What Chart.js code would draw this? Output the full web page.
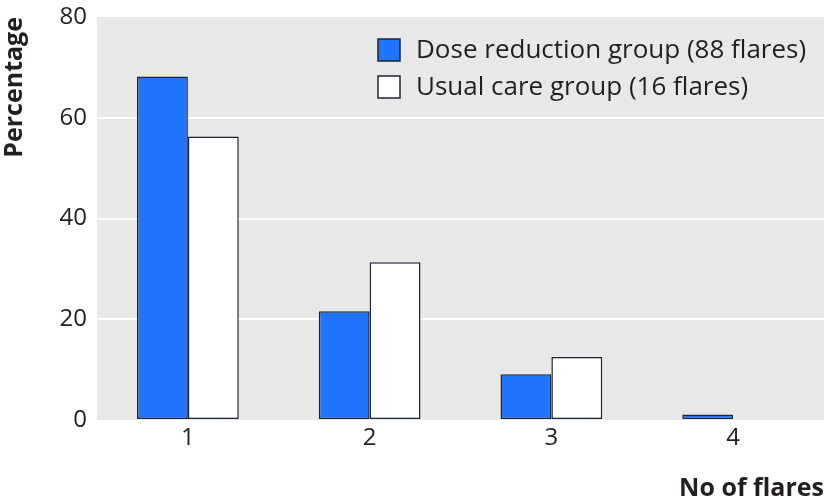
<!DOCTYPE html>
<html>
<head>
<meta charset="utf-8">
<script src="https://cdn.jsdelivr.net/npm/chart.js@4/dist/chart.umd.min.js"></script>
<style>
  body { margin: 0; background: #fff; }
  #wrap { width: 824px; height: 504px; position: relative; }
</style>
</head>
<body>
<div id="wrap"><canvas id="flareChart"></canvas></div>
<script>
// ============================
// DATA
// ============================

const categories = ['1', '2', '3', '4'];
const doseReduction = [68.2, 21.6, 9.1, 1.1];
const usualCare = [56.3, 31.3, 12.5, null];
const yTicks = [0, 20, 40, 60, 80];
const seriesLabels = ['Dose reduction group (88 flares)', 'Usual care group (16 flares)'];

const FONT = '"Open Sans", "Noto Sans", sans-serif';
const TEXT = '#231f20';
const EDGE = '#1c2630';

// gray plot background
const plotBg = {
    id: 'plotBg',
    beforeDraw(chart) {
        const a = chart.chartArea;
        const ctx = chart.ctx;
        ctx.save();
        ctx.fillStyle = '#e8e8e8';
        ctx.fillRect(a.left, a.top, a.right - a.left, a.bottom - a.top);
        ctx.restore();
    }
};

// legend drawn inside the plot, top right
const innerLegend = {
    id: 'innerLegend',
    afterDraw(chart) {
        const ctx = chart.ctx;
        const x = 378, y0 = 39, rowH = 37, box = 22;
        ctx.save();
        ctx.font = '26px ' + FONT;
        ctx.textBaseline = 'middle';
        chart.data.datasets.forEach((ds, i) => {
            const y = y0 + i * rowH;
            ctx.fillStyle = ds.backgroundColor;
            ctx.fillRect(x, y, box, box);
            ctx.lineWidth = 1.5;
            ctx.strokeStyle = EDGE;
            ctx.strokeRect(x, y, box, box);
            ctx.fillStyle = TEXT;
            ctx.fillText(ds.label, x + 38, y + box / 2 + 1);
        });
        ctx.restore();
    }
};

const ctx = document.getElementById('flareChart');

new Chart(ctx, {

    type: 'bar',

    data: {

        labels: categories,

        datasets: [{
            label: seriesLabels[0],
            data: doseReduction,
            backgroundColor: '#1f75fe',
            borderColor: EDGE,
            borderWidth: 1.5,
            borderSkipped: false
        }, {
            label: seriesLabels[1],
            data: usualCare,
            backgroundColor: '#ffffff',
            borderColor: EDGE,
            borderWidth: 1.5,
            borderSkipped: false
        }]

    },

    options: {

        responsive: true,
        maintainAspectRatio: false,
        animation: false,
        categoryPercentage: 0.56,
        barPercentage: 1,

        layout: {
            padding: { top: 17, right: 0, bottom: 0, left: 0 }
        },

        plugins: {
            legend: { display: false },
            tooltip: { enabled: false }
        },

        scales: {

            x: {
                grid: { display: false, drawTicks: false },
                border: { display: false },
                ticks: {
                    color: TEXT,
                    font: { family: FONT, size: 24 },
                    padding: 4
                },
                title: {
                    display: true,
                    text: 'No of flares',
                    align: 'end',
                    color: TEXT,
                    font: { family: FONT, size: 25, weight: 'bold' },
                    padding: { top: 17, bottom: 0 }
                },
                afterFit(scale) {
                    scale.height = 84;
                    scale.paddingLeft = 0;
                    scale.paddingRight = 0;
                }
            },

            y: {
                min: 0,
                max: 80,
                afterBuildTicks(scale) {
                    scale.ticks = yTicks.map(v => ({ value: v }));
                },
                grid: {
                    color: c => (c.tick && (c.tick.value === 0 || c.tick.value === 80)) ? 'rgba(0,0,0,0)' : '#ffffff',
                    lineWidth: 2,
                    drawTicks: false
                },
                border: { display: false },
                ticks: {
                    color: TEXT,
                    font: { family: FONT, size: 24 },
                    padding: 10
                },
                title: {
                    display: true,
                    text: 'Percentage',
                    align: 'end',
                    color: TEXT,
                    font: { family: FONT, size: 25, weight: 'bold' },
                    padding: { top: 0, bottom: 0 }
                },
                afterFit(scale) {
                    scale.width = 97;
                    scale.paddingTop = 0;
                    scale.paddingBottom = 0;
                }
            }

        }

    },

    plugins: [plotBg, innerLegend]

});
</script>
</body>
</html>
